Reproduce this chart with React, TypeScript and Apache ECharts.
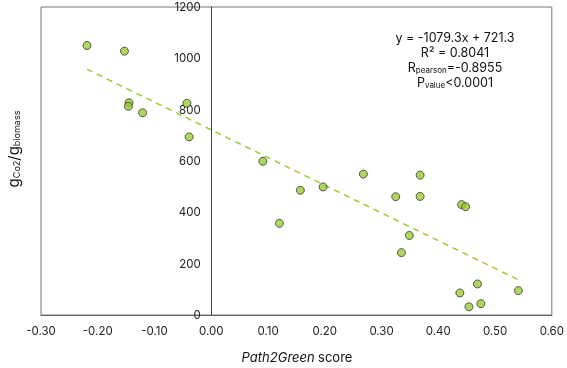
import React, { useEffect, useRef } from "react";
import * as echarts from "echarts";

const xValues = [-0.219, -0.153, -0.145, -0.146, -0.121, -0.043, -0.039, 0.091, 0.12, 0.157, 0.197, 0.268, 0.368, 0.325, 0.368, 0.441, 0.448, 0.349, 0.335, 0.469, 0.438, 0.541, 0.454, 0.475];
const yValues = [1050, 1028, 827, 813, 788, 825, 694, 599, 357, 486, 499, 549, 545, 461, 462, 430, 422, 310, 243, 121, 86, 95, 32, 44];
const slope = -1079.3;
const intercept = 721.3;
const annotationLines = ["y = -1079.3x + 721.3", "R² = 0.8041"];

const FONT = "Inter, 'Noto Sans', sans-serif";
const GREEN = "#9ACD32";

export default function App() {
  const ref = useRef<HTMLDivElement>(null);
  useEffect(() => {
    if (!ref.current) return;
    const chart = echarts.init(ref.current, null, { renderer: "svg" });
    const points = xValues.map((x, i) => [x, yValues[i]]);
    const xMin = Math.min(...xValues);
    const xMax = Math.max(...xValues);
    const trend = [
      [xMin, slope * xMin + intercept],
      [xMax, slope * xMax + intercept],
    ];
    const gridLeft = 41;
    const gridWidth = 512;
    const zeroOffset = -((0 - -0.3) / 0.9) * gridWidth;
    const annX = 455;
    const annFont = 12.5;
    chart.setOption({
      animation: false,
      textStyle: { fontFamily: FONT },
      grid: {
        left: gridLeft,
        top: 7,
        width: gridWidth,
        height: 308,
        show: true,
        borderColor: "#777",
        borderWidth: 1,
      },
      xAxis: {
        type: "value",
        min: -0.3,
        max: 0.6,
        interval: 0.1,
        axisLine: { show: true, lineStyle: { color: "#666" } },
        axisTick: { show: false },
        splitLine: { show: false },
        axisLabel: {
          formatter: (v: number) => v.toFixed(2),
          color: "#222",
          fontSize: 11.5,
          margin: 10,
          fontFamily: FONT,
        },
      },
      yAxis: {
        type: "value",
        min: 0,
        max: 1200,
        interval: 200,
        offset: zeroOffset,
        axisLine: { show: true, onZero: false, lineStyle: { color: "#444" } },
        axisTick: { show: false },
        splitLine: { show: false },
        axisLabel: {
          formatter: (v: number) => String(v),
          color: "#222",
          fontSize: 11.5,
          margin: 11,
          fontFamily: FONT,
        },
      },
      graphic: [
        {
          type: "text",
          x: 13,
          y: 149,
          rotation: Math.PI / 2,
          style: {
            text: "{g|g}{s|Co2}{g|/g}{s|biomass}",
            align: "center",
            verticalAlign: "middle",
            fill: "#111",
            rich: {
              g: { fontSize: 15, fontFamily: FONT, fill: "#111" },
              s: { fontSize: 9, fontFamily: FONT, fill: "#111", padding: [7, 0, 0, 0] },
            },
          },
        },
        {
          type: "text",
          x: 297,
          y: 357,
          style: {
            text: "{i|Path2Green} {n|score}",
            align: "center",
            verticalAlign: "middle",
            rich: {
              i: { fontSize: 13, fontStyle: "italic", fontFamily: FONT, fill: "#111" },
              n: { fontSize: 13, fontFamily: FONT, fill: "#111" },
            },
          },
        },
        {
          type: "text",
          x: annX,
          y: 37,
          style: { text: annotationLines[0], align: "center", verticalAlign: "middle", fontSize: annFont, fontFamily: FONT, fill: "#111" },
        },
        {
          type: "text",
          x: annX,
          y: 52,
          style: { text: annotationLines[1], align: "center", verticalAlign: "middle", fontSize: annFont, fontFamily: FONT, fill: "#111" },
        },
        {
          type: "text",
          x: annX,
          y: 67,
          style: {
            text: "{m|R}{s|pearson}{m|=-0.8955}",
            align: "center",
            verticalAlign: "middle",
            rich: {
              m: { fontSize: annFont, fontFamily: FONT, fill: "#111" },
              s: { fontSize: 8, fontFamily: FONT, fill: "#111", padding: [6, 0, 0, 0] },
            },
          },
        },
        {
          type: "text",
          x: annX,
          y: 82,
          style: {
            text: "{m|P}{s|value}{m|<0.0001}",
            align: "center",
            verticalAlign: "middle",
            rich: {
              m: { fontSize: annFont, fontFamily: FONT, fill: "#111" },
              s: { fontSize: 8, fontFamily: FONT, fill: "#111", padding: [6, 0, 0, 0] },
            },
          },
        },
      ],
      series: [
        {
          type: "line",
          data: trend,
          symbol: "none",
          lineStyle: { color: GREEN, width: 1.5, type: [6, 5] },
          z: 1,
        },
        {
          type: "scatter",
          data: points,
          symbolSize: 8,
          itemStyle: { color: GREEN, borderColor: "#333", borderWidth: 1 },
          z: 2,
        },
      ],
    });
    return () => chart.dispose();
  }, []);
  return (
    <div
      ref={ref}
      style={{ position: "fixed", left: 0, top: 0, width: 567, height: 368 }}
    />
  );
}
